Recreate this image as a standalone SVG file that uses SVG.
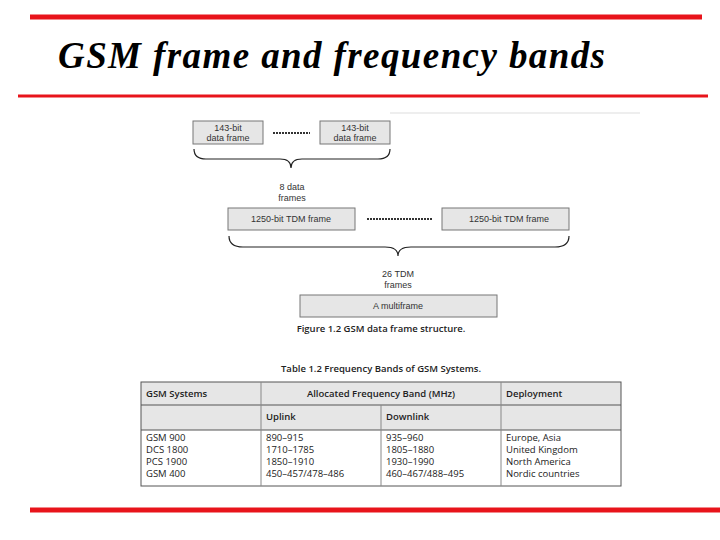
<svg xmlns="http://www.w3.org/2000/svg" width="720" height="540" viewBox="0 0 720 540">
<style>
.box{fill:#e6e6e6;stroke:#777;stroke-width:1}
.t{font-family:"Liberation Sans",Arial,sans-serif;font-size:9px;fill:#333;text-anchor:middle}
.br{fill:none;stroke:#222;stroke-width:1.2}
.dot{stroke:#333;stroke-width:2;stroke-dasharray:2,1}
.tb{font-family:"Open Sans","Liberation Sans",sans-serif;font-size:9.5px;fill:#222}
.b{font-weight:600}
.red{stroke:#e8141b}
</style>
<rect width="720" height="540" fill="#fff"/>
<line class="red" x1="30" y1="17" x2="702" y2="17" stroke-width="5"/>
<text x="58" y="68" font-family="Liberation Serif,serif" font-size="37" font-style="italic" font-weight="bold" textLength="547" lengthAdjust="spacing">GSM frame and frequency bands</text>
<line class="red" x1="18" y1="96" x2="708" y2="96" stroke-width="3"/>
<line x1="390" y1="113" x2="640" y2="113" stroke="#ddd" stroke-width="1"/>
<g id="f1"><rect class="box" x="193" y="121" width="70" height="23"/><text class="t" x="228" y="131">143-bit</text><text class="t" x="228" y="141">data frame</text></g>
<g id="f2"><rect class="box" x="320" y="121" width="70" height="23"/><text class="t" x="355" y="131">143-bit</text><text class="t" x="355" y="141">data frame</text></g>
<g id="tdm1"><rect class="box" x="228" y="208" width="127" height="22"/><text class="t" x="291" y="222">1250-bit TDM frame</text></g>
<g id="tdm2"><rect class="box" x="442" y="208" width="127" height="22"/><text class="t" x="509" y="222">1250-bit TDM frame</text></g>
<g id="multi"><rect class="box" x="300" y="295" width="197" height="22"/><text class="t" x="398" y="309">A multiframe</text></g>
<g id="connectors">
<line class="dot" x1="273" y1="133" x2="310" y2="133"/>
<line class="dot" x1="367" y1="219" x2="432" y2="219"/>
<path class="br" d="M194,149 Q194,159 206,159 L280,159 Q291,159 291,168 Q291,159 302,159 L378,159 Q390,159 390,149"/>
<path class="br" d="M229,236 Q229,247 243,247 L385,247 Q398,247 398,256 Q398,247 411,247 L555,247 Q569,247 569,236"/>
</g>
<text class="t" x="292" y="190">8 data</text><text class="t" x="292" y="201">frames</text>
<text class="t" x="398" y="277">26 TDM</text><text class="t" x="398" y="288">frames</text>
<text class="tb b" x="381" y="332" text-anchor="middle" font-size="10">Figure 1.2 GSM data frame structure.</text>
<text class="tb b" x="381" y="372" text-anchor="middle" font-size="10">Table 1.2 Frequency Bands of GSM Systems.</text>
<g id="table">
<rect x="141" y="382" width="480" height="48" fill="#e6e6e6"/>
<rect x="141" y="382" width="480" height="104" fill="none" stroke="#555"/>
<line x1="141" y1="405" x2="621" y2="405" stroke="#555"/>
<line x1="141" y1="430" x2="621" y2="430" stroke="#555"/>
<line x1="261" y1="382" x2="261" y2="486" stroke="#888"/>
<line x1="381" y1="405" x2="381" y2="486" stroke="#888"/>
<line x1="501" y1="382" x2="501" y2="486" stroke="#888"/>
<text class="tb b" x="146" y="397">GSM Systems</text>
<text class="tb b" x="381" y="397" text-anchor="middle">Allocated Frequency Band (MHz)</text>
<text class="tb b" x="506" y="397">Deployment</text>
<text class="tb b" x="266" y="420">Uplink</text>
<text class="tb b" x="386" y="420">Downlink</text>
<text class="tb" x="146" y="441">GSM 900</text><text class="tb" x="146" y="453">DCS 1800</text><text class="tb" x="146" y="465">PCS 1900</text><text class="tb" x="146" y="477">GSM 400</text>
<text class="tb" x="266" y="441">890–915</text><text class="tb" x="266" y="453">1710–1785</text><text class="tb" x="266" y="465">1850–1910</text><text class="tb" x="266" y="477">450–457/478–486</text>
<text class="tb" x="386" y="441">935–960</text><text class="tb" x="386" y="453">1805–1880</text><text class="tb" x="386" y="465">1930–1990</text><text class="tb" x="386" y="477">460–467/488–495</text>
<text class="tb" x="506" y="441">Europe, Asia</text><text class="tb" x="506" y="453">United Kingdom</text><text class="tb" x="506" y="465">North America</text><text class="tb" x="506" y="477">Nordic countries</text>
</g>
<line class="red" x1="30" y1="510" x2="720" y2="510" stroke-width="5"/>
</svg>
